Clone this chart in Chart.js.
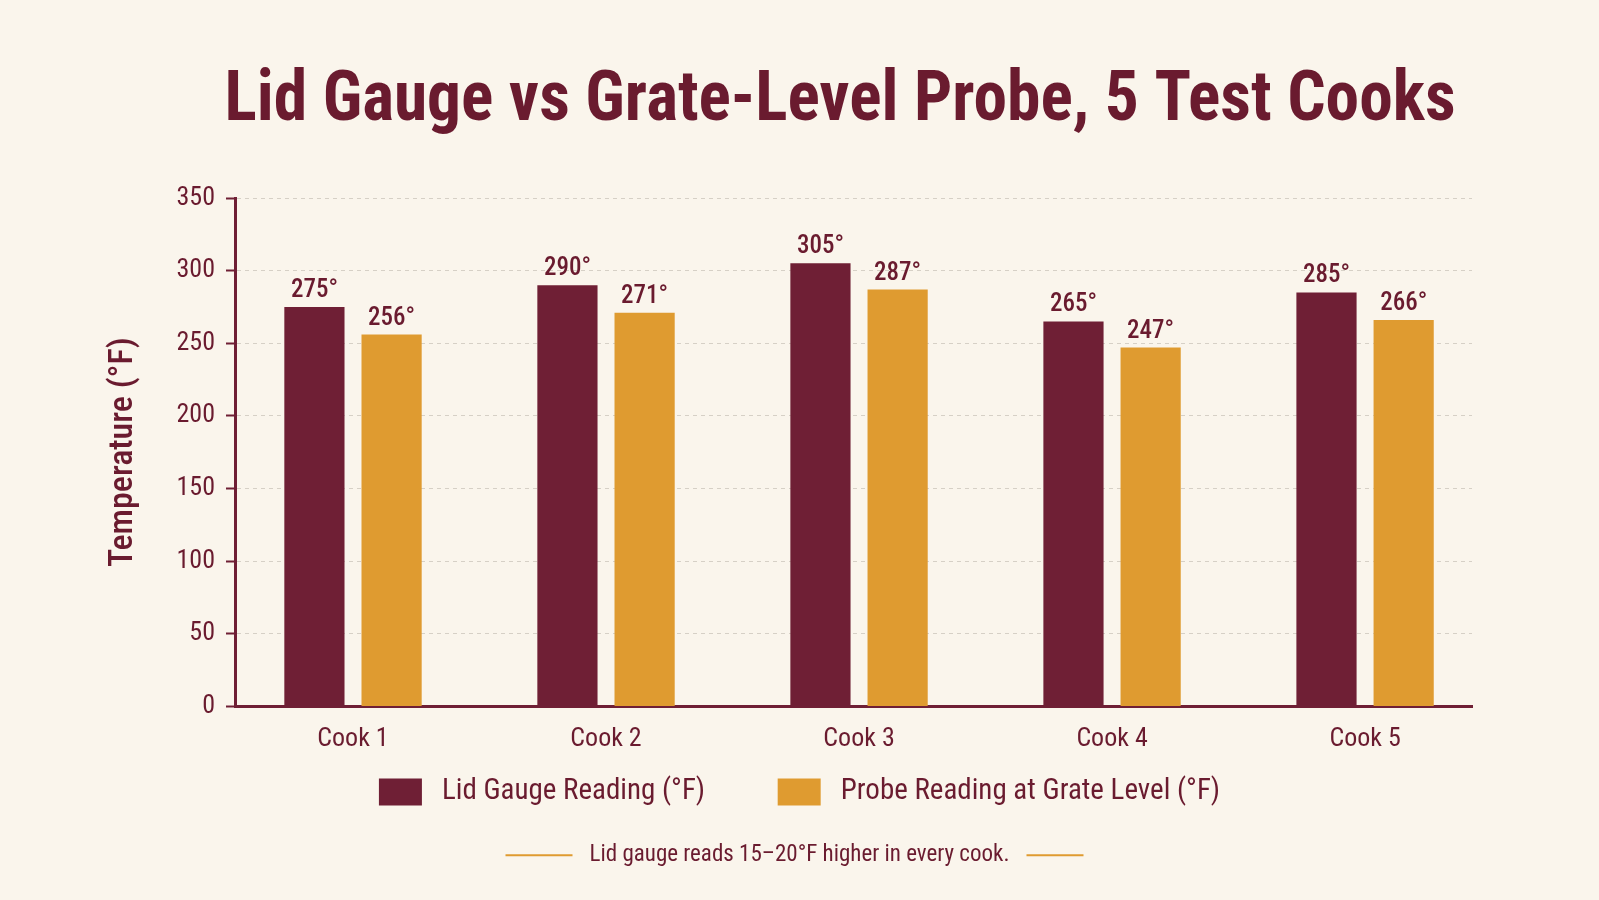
<!DOCTYPE html>
<html>
<head>
<meta charset="utf-8">
<script src="https://cdn.jsdelivr.net/npm/chart.js@4"></script>
<style>
  html, body { margin: 0; padding: 0; background: #FAF5EC; }
  #wrap { width: 1599px; height: 900px; position: relative; }
</style>
</head>
<body>
<div id="wrap"><canvas id="c" width="1599" height="900"></canvas></div>
<script>
// ---- data ----
const categories = ['Cook 1', 'Cook 2', 'Cook 3', 'Cook 4', 'Cook 5'];
const lidGauge = [275, 290, 305, 265, 285];
const probeGrate = [256, 271, 287, 247, 266];
const seriesNames = ['Lid Gauge Reading (°F)', 'Probe Reading at Grate Level (°F)'];
const yTicks = [0, 50, 100, 150, 200, 250, 300, 350];
const titleText = 'Lid Gauge vs Grate-Level Probe, 5 Test Cooks';
const yTitle = 'Temperature (°F)';
const footnote = 'Lid gauge reads 15–20°F higher in every cook.';

// ---- style ----
const FF = "'Roboto Condensed', 'Liberation Sans Narrow', 'DejaVu Sans Condensed', 'Arial Narrow', sans-serif";
const MAROON = '#6F1F35';
const GOLD = '#DF9B30';
const TEXT = '#6A1B2F';
const BG = '#FAF5EC';
const SUB_PAD = { top: 25, bottom: 31 };

Chart.defaults.font.family = FF;
Chart.defaults.color = TEXT;

const bgPlugin = {
  id: 'bg',
  beforeDraw(chart) {
    const ctx = chart.ctx;
    ctx.save();
    ctx.fillStyle = BG;
    ctx.fillRect(0, 0, chart.width, chart.height);
    ctx.restore();
  }
};

const titlePlugin = {
  id: 'bigTitle',
  afterDraw(chart) {
    const ctx = chart.ctx;
    ctx.save();
    ctx.font = "bold 71px " + FF;
    ctx.fillStyle = TEXT;
    ctx.textAlign = 'center';
    ctx.textBaseline = 'alphabetic';
    ctx.translate(840, 120);
    ctx.scale(0.95, 1);
    ctx.fillText(titleText, 0, 0);
    ctx.restore();
  }
};

const valueLabels = {
  id: 'valueLabels',
  afterDatasetsDraw(chart) {
    const ctx = chart.ctx;
    ctx.save();
    ctx.font = "500 25px " + FF;
    ctx.fillStyle = TEXT;
    ctx.textAlign = 'center';
    ctx.textBaseline = 'alphabetic';
    chart.data.datasets.forEach((ds, di) => {
      const meta = chart.getDatasetMeta(di);
      meta.data.forEach((bar, i) => {
        ctx.fillText(ds.data[i] + '°', bar.x, bar.y - 10);
      });
    });
    ctx.restore();
  }
};

const footLines = {
  id: 'footLines',
  afterDraw(chart) {
    const sub = chart.boxes.find(b => b.options && b.options.text === footnote);
    if (!sub) return;
    const ctx = chart.ctx;
    const fs = 23;
    ctx.save();
    ctx.font = "normal " + fs + "px " + FF;
    const w = ctx.measureText(footnote).width;
    const cx = (sub.left + sub.right) / 2;
    const cy = sub.top + SUB_PAD.top + fs * 1.2 / 2;
    ctx.strokeStyle = GOLD;
    ctx.lineWidth = 2;
    ctx.beginPath();
    ctx.moveTo(cx - w / 2 - 17, cy); ctx.lineTo(cx - w / 2 - 84, cy);
    ctx.moveTo(cx + w / 2 + 17, cy); ctx.lineTo(cx + w / 2 + 74, cy);
    ctx.stroke();
    ctx.restore();
  }
};

new Chart(document.getElementById('c'), {
  type: 'bar',
  data: {
    labels: categories,
    datasets: [
      { label: seriesNames[0], data: lidGauge, backgroundColor: MAROON, categoryPercentage: 0.61, barPercentage: 0.78 },
      { label: seriesNames[1], data: probeGrate, backgroundColor: GOLD, categoryPercentage: 0.61, barPercentage: 0.78 }
    ]
  },
  plugins: [bgPlugin, titlePlugin, valueLabels, footLines],
  options: {
    responsive: false,
    animation: false,
    layout: { padding: { top: 198, left: 0, right: 0, bottom: 0 } },
    plugins: {
      legend: {
        position: 'bottom',
        labels: {
          boxWidth: 43, boxHeight: 27, padding: 26,
          color: TEXT,
          font: { size: 29, weight: 'normal', family: FF },
          generateLabels(chart) {
            const items = Chart.defaults.plugins.legend.labels.generateLabels(chart);
            // spacing as in the reference: small gap after each swatch, wider gap between entries
            items.forEach(it => { it.text = '\u2009' + it.text; });
            items[0].text = items[0].text + '\u00A0\u00A0\u00A0\u00A0\u00A0\u00A0\u00A0';
            return items;
          }
        }
      },
      subtitle: {
        display: true,
        position: 'bottom',
        text: footnote,
        color: TEXT,
        font: { size: 23, weight: 'normal', family: FF },
        padding: SUB_PAD
      },
      tooltip: { enabled: false }
    },
    scales: {
      x: {
        offset: true,
        grid: { display: false, drawTicks: false },
        border: { display: true, color: MAROON, width: 3 },
        ticks: { color: TEXT, font: { size: 26, family: FF }, padding: 17 },
        afterBuildTicks(scale) {
          scale._startValue = -0.4664;
          scale._valueRange = 4.889;
        },
        afterFit(scale) { scale.height = 45; }
      },
      y: {
        min: 0, max: 350,
        afterBuildTicks(scale) { scale.ticks = yTicks.map(v => ({ value: v })); },
        grid: {
          color: '#D6D0C6', lineWidth: 1,
          tickLength: 9, tickColor: MAROON, tickWidth: 2, tickBorderDash: []
        },
        border: { display: true, color: MAROON, width: 3, dash: [4, 4] },
        ticks: { color: TEXT, font: { size: 26, family: FF }, padding: 11 },
        title: {
          display: true, text: yTitle, color: TEXT,
          font: { size: 34, weight: '500', family: FF },
          padding: { top: 103, bottom: 0 }
        },
        afterFit(scale) { scale.width = 235; }
      },
      yR: {
        position: 'right',
        display: true,
        grid: { display: false, drawTicks: false },
        border: { display: false },
        ticks: { display: false },
        afterFit(scale) { scale.width = 127; }
      }
    }
  }
});
</script>
</body>
</html>
